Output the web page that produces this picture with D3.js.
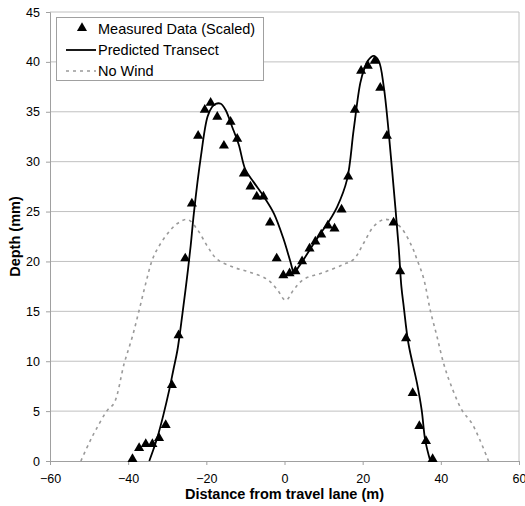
<!doctype html>
<html>
<head>
<meta charset="utf-8">
<script src="https://cdn.jsdelivr.net/npm/d3@7/dist/d3.min.js"></script>
<style>
  body { margin: 0; background: #fff; }
  text { font-family: "Liberation Sans", Arial, sans-serif; }
</style>
</head>
<body>
<svg id="chart"></svg>
<script>
// measured depths (scaled) [distance m, depth mm]
const measured = [
  [-38.9, 0.1], [-37.2, 1.2], [-35.5, 1.6], [-33.8, 1.6], [-32.1, 2.2], [-30.4, 3.5],
  [-28.8, 7.5], [-27.1, 12.5], [-25.4, 20.2], [-23.7, 25.7], [-22.1, 32.5], [-20.4, 35.1],
  [-18.9, 35.8], [-17.2, 34.4], [-15.5, 31.5], [-13.8, 33.9], [-12.1, 32.2], [-10.4, 28.7],
  [-8.7, 27.4], [-7.1, 26.4], [-5.4, 26.4], [-3.7, 23.8], [-2.0, 20.2], [-0.3, 18.5],
  [1.3, 18.7], [2.8, 18.9], [4.5, 19.9], [6.4, 21.2], [7.9, 21.9], [9.4, 22.6],
  [11.1, 23.5], [12.8, 23.2], [14.6, 25.1], [16.3, 28.4], [18.0, 35.1], [19.6, 39.0],
  [21.3, 39.5], [23.1, 40.0], [24.5, 37.3], [26.2, 32.5], [27.9, 23.8], [29.6, 18.9],
  [31.1, 12.2], [32.8, 6.7], [34.5, 3.4], [36.2, 1.9], [37.9, 0.1]
];

const predicted = [
  [-34.6, 0], [-33.5, 1.2], [-32.5, 2.4], [-31, 4.6], [-29.5, 7.1], [-28.4, 9.2],
  [-27.4, 11.1], [-26.1, 14.8], [-25, 18.2], [-24, 21.6], [-23.2, 24.8], [-21.4, 30.5],
  [-19.7, 34.5], [-18.5, 35.5], [-17.6, 35.8], [-16.3, 35.8], [-15.1, 35.2], [-13.4, 33.5],
  [-11.7, 31.7], [-10, 29.2], [-7.8, 27.9], [-5.3, 26.5], [-2.7, 24.8], [-0.2, 22.2],
  [1.5, 20], [2.5, 18.8], [3.5, 19.4], [4.9, 20.2], [7, 21.5], [9.2, 22.8],
  [11.5, 24.1], [13.5, 25.5], [16, 28.2], [17.7, 33.2], [19.4, 37.9], [20.5, 39.4],
  [21.3, 40.1], [22.8, 40.6], [24.1, 40.1], [25.4, 37.5], [26.6, 33.2], [27.9, 27.5],
  [29.2, 21.5], [29.9, 17.5], [30.5, 15.5], [31.7, 11.8], [33.9, 7.8], [35.1, 5.1],
  [36, 2.1], [37.3, 0]
];

const noWind = [
  [-52.1, 0], [-50, 1.8], [-48.3, 3.1], [-45.3, 5.1], [-43.6, 5.8], [-41, 9.8],
  [-38.9, 12.5], [-37.2, 15.1], [-35.5, 17.8], [-33.8, 20.2], [-32.3, 21.4], [-29.9, 22.8],
  [-27.4, 23.8], [-24.8, 24.2], [-22.3, 23.2], [-19.7, 21.5], [-17.2, 20.2], [-12.9, 19.4],
  [-8.7, 18.9], [-4.4, 18.2], [-1.9, 17.2], [0.3, 16.1], [2.4, 17.2], [4.9, 18.2],
  [10, 18.9], [15.1, 19.7], [17.7, 20.2], [20.2, 21.8], [22.8, 23.5], [25.4, 24.2],
  [27.9, 24.0], [30, 23.3], [32.6, 21.5], [33.9, 20.2], [35.6, 18.3], [37.3, 15.1],
  [39, 12.5], [40.7, 9.8], [42.4, 7.8], [45.4, 5.1], [47.9, 3.8], [50, 2.1], [52.2, 0]
];

const xTicks = [-60, -40, -20, 0, 20, 40, 60];
const yTicks = [0, 5, 10, 15, 20, 25, 30, 35, 40, 45];
const legendLabels = ["Measured Data (Scaled)", "Predicted Transect", "No Wind"];

const width = 525, height = 506;
const plotL = 50, plotR = 519, plotT = 12, plotB = 461;

const svg = d3.select("#chart")
    .attr("width", width)
    .attr("height", height);

const x = d3.scaleLinear().domain([-60, 60]).range([plotL, plotR]);
const y = d3.scaleLinear().domain([0, 45]).range([plotB, plotT]);

// gridlines
svg.append("g")
    .selectAll("line")
    .data(yTicks.filter(d => d > 0))
    .join("line")
    .attr("x1", plotL).attr("x2", plotR)
    .attr("y1", d => y(d)).attr("y2", d => y(d))
    .attr("stroke", "#c0c0c0")
    .attr("stroke-width", 1);

// right border
svg.append("line")
    .attr("x1", plotR).attr("x2", plotR)
    .attr("y1", plotT).attr("y2", plotB)
    .attr("stroke", "#c0c0c0");

// axes
const xAxis = svg.append("g")
    .attr("transform", `translate(0,${plotB})`)
    .call(d3.axisBottom(x).tickValues(xTicks).tickSize(4).tickPadding(9));
const yAxis = svg.append("g")
    .attr("transform", `translate(${plotL},0)`)
    .call(d3.axisLeft(y).tickValues(yTicks).tickSize(4).tickPadding(6));

[xAxis, yAxis].forEach(a => {
    a.select(".domain").attr("stroke", "#a0a0a0");
    a.selectAll(".tick line").attr("stroke", "#a0a0a0");
    a.selectAll(".tick text")
        .attr("fill", "#000")
        .style("font-size", "12.5px")
        .style("font-family", "'Liberation Sans', Arial, sans-serif");
});

// no wind (dotted grey)
const line = d3.line()
    .x(d => x(d[0]))
    .y(d => y(d[1]))
    .curve(d3.curveCatmullRom.alpha(0.5));

svg.append("path")
    .datum(noWind)
    .attr("fill", "none")
    .attr("stroke", "#9a9a9a")
    .attr("stroke-width", 1.6)
    .attr("stroke-dasharray", "3,4")
    .attr("d", line);

// predicted transect
svg.append("path")
    .datum(predicted)
    .attr("fill", "none")
    .attr("stroke", "#000")
    .attr("stroke-width", 1.8)
    .attr("d", line);

// measured triangles
const tri = d3.symbol().type(d3.symbolTriangle).size(44);
svg.append("g")
    .selectAll("path")
    .data(measured)
    .join("path")
    .attr("transform", d => `translate(${x(d[0])},${y(d[1]) - 1})`)
    .attr("d", tri)
    .attr("fill", "#000");

// axis titles
svg.append("text")
    .attr("x", (plotL + plotR) / 2)
    .attr("y", 499)
    .attr("text-anchor", "middle")
    .style("font-size", "14.5px")
    .style("font-weight", "bold")
    .text("Distance from travel lane (m)");

svg.append("text")
    .attr("transform", `translate(20,${(plotT + plotB) / 2}) rotate(-90)`)
    .attr("text-anchor", "middle")
    .style("font-size", "14.5px")
    .style("font-weight", "bold")
    .text("Depth (mm)");

// legend
const legend = svg.append("g");
legend.append("rect")
    .attr("x", 56.5).attr("y", 17.5)
    .attr("width", 207).attr("height", 63)
    .attr("fill", "#fff")
    .attr("stroke", "#a0a0a0");

const rowY = [29, 50, 71];
legend.append("path")
    .attr("transform", `translate(82,${rowY[0] - 1})`)
    .attr("d", tri)
    .attr("fill", "#000");
legend.append("line")
    .attr("x1", 66).attr("x2", 96)
    .attr("y1", rowY[1]).attr("y2", rowY[1])
    .attr("stroke", "#000").attr("stroke-width", 1.8);
legend.append("line")
    .attr("x1", 66).attr("x2", 96)
    .attr("y1", rowY[2]).attr("y2", rowY[2])
    .attr("stroke", "#9a9a9a").attr("stroke-width", 1.6)
    .attr("stroke-dasharray", "3,4");

legend.selectAll("text.lbl")
    .data(legendLabels)
    .join("text")
    .attr("class", "lbl")
    .attr("x", 98)
    .attr("y", (d, i) => rowY[i] + 5)
    .style("font-size", "14.5px")
    .text(d => d);
</script>
</body>
</html>
